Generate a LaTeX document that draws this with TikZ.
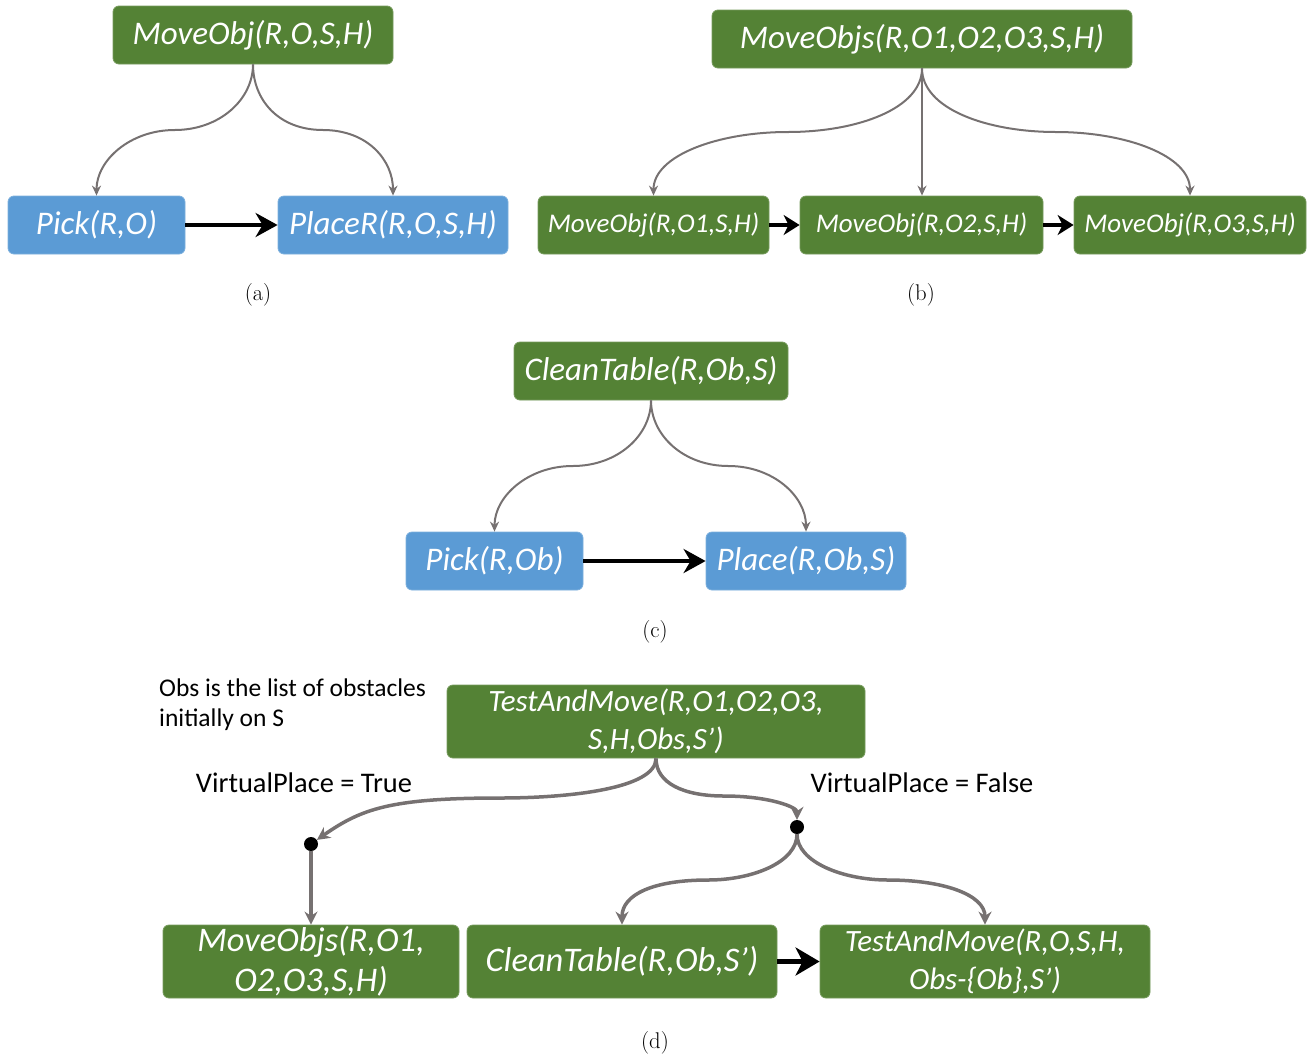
\documentclass[tikz,border=0pt]{standalone}
\usepackage{fontspec}
\newfontfamily\carl{Carlito}
\usetikzlibrary{arrows.meta,calc}
\definecolor{boxgreen}{HTML}{548235}
\definecolor{boxblue}{HTML}{5B9BD5}
\definecolor{linkgray}{HTML}{767171}
\begin{document}
\begin{tikzpicture}[x=1pt,y=-1pt,
  box/.style={rounded corners=6pt, text=white, inner sep=0pt, align=center, line width=0.8pt},
  gbox/.style={box, fill=boxgreen, draw=boxgreen!80!white},
  bbox/.style={box, fill=boxblue, draw=boxblue!80!white},
  bigtxt/.style={font=\carl\itshape\fontsize{33}{38}\selectfont},
  midtxt/.style={font=\carl\itshape\fontsize{27}{32}\selectfont},
  dtxt/.style={font=\carl\itshape\fontsize{31}{38}\selectfont},
  dbigtxt/.style={font=\carl\itshape\fontsize{34.5}{40}\selectfont},
  notetxt/.style={font=\carl\fontsize{25.5}{30}\selectfont, inner sep=0pt, align=left},
  vptxt/.style={font=\carl\fontsize{28.4}{33}\selectfont, inner sep=0pt},
  captext/.style={font=\fontsize{22.7}{27}\selectfont, inner sep=0pt},
  link/.style={draw=linkgray, line width=2pt, -{Stealth[length=10pt,width=9pt]}},
  linkd/.style={draw=linkgray, line width=3.5pt, -{Stealth[length=13pt,width=13pt]}},
  seq/.style={draw=black, line width=4pt, -{Stealth[length=22pt,width=24pt,inset=7pt]}},
  seqs/.style={draw=black, line width=4pt, -{Stealth[length=16pt,width=20pt,inset=5pt]}},
  seqd/.style={draw=black, line width=5pt, -{Stealth[length=24pt,width=28pt,inset=7pt]}},
  dotnode/.style={circle, fill=black, inner sep=0pt, minimum size=14pt}
]
\useasboundingbox (0,0) rectangle (1313,1058);

% ---------- (a)
\node[gbox, bigtxt, minimum width=280pt, minimum height=58pt] (aTop) at (253,35) {MoveObj(R,O,S,H)};
\node[bbox, bigtxt, minimum width=177pt, minimum height=58pt] (aPick) at (96.5,225) {Pick(R,O)};
\node[bbox, bigtxt, minimum width=230pt, minimum height=58pt] (aPlace) at (393,225) {PlaceR(R,O,S,H)};
\coordinate (aMidL) at ($(aTop.south)!0.5!(aPick.north)$);
\coordinate (aMidR) at ($(aTop.south)!0.5!(aPlace.north)$);
\draw[link] (aTop.south) .. controls +(0,35) and +(45,0) .. (aMidL) .. controls +(-45,0) and +(0,-35) .. (aPick.north);
\draw[link] (aTop.south) .. controls +(0,35) and +(-45,0) .. (aMidR) .. controls +(45,0) and +(0,-35) .. (aPlace.north);
\draw[seq] (aPick) -- (aPlace);
\node[captext] (capA) at (258,295) {(a)};

% ---------- (b)
\node[gbox, bigtxt, minimum width=420pt, minimum height=58pt] (bTop) at (922,39) {MoveObjs(R,O1,O2,O3,S,H)};
\node[gbox, midtxt, minimum width=231pt, minimum height=58pt] (b1) at (653.5,225) {MoveObj(R,O1,S,H)};
\node[gbox, midtxt, minimum width=243pt, minimum height=58pt] (b2) at (921.5,225) {MoveObj(R,O2,S,H)};
\node[gbox, midtxt, minimum width=232pt, minimum height=58pt] (b3) at (1190,225) {MoveObj(R,O3,S,H)};
\coordinate (bMidL) at ($(bTop.south)!0.5!(b1.north)$);
\coordinate (bMidR) at ($(bTop.south)!0.5!(b3.north)$);
\draw[link] (bTop.south) .. controls +(0,40) and +(70,0) .. (bMidL) .. controls +(-70,0) and +(0,-40) .. (b1.north);
\draw[link] (bTop.south) -- (bTop.south |- b2.north);
\draw[link] (bTop.south) .. controls +(0,40) and +(-70,0) .. (bMidR) .. controls +(70,0) and +(0,-40) .. (b3.north);
\draw[seqs] (b1) -- (b2);
\draw[seqs] (b2) -- (b3);
\node[captext] (capB) at (921,295) {(b)};

% ---------- (c)
\node[gbox, bigtxt, minimum width=274pt, minimum height=58pt] (cTop) at (651,371) {CleanTable(R,Ob,S)};
\node[bbox, bigtxt, minimum width=177pt, minimum height=58pt] (cPick) at (494.5,561) {Pick(R,Ob)};
\node[bbox, bigtxt, minimum width=200pt, minimum height=58pt] (cPlace) at (806,561) {Place(R,Ob,S)};
\coordinate (cMidL) at ($(cTop.south)!0.5!(cPick.north)$);
\coordinate (cMidR) at ($(cTop.south)!0.5!(cPlace.north)$);
\draw[link] (cTop.south) .. controls +(0,35) and +(45,0) .. (cMidL) .. controls +(-45,0) and +(0,-35) .. (cPick.north);
\draw[link] (cTop.south) .. controls +(0,35) and +(-45,0) .. (cMidR) .. controls +(45,0) and +(0,-35) .. (cPlace.north);
\draw[seq] (cPick) -- (cPlace);
\node[captext] (capC) at (655,632) {(c)};

% ---------- (d)
\node[notetxt, anchor=north west] (obsNote) at (159,679) {Obs is the list of obstacles\\initially on S};
\node[gbox, dtxt, minimum width=418pt, minimum height=73pt] (dTam) at (656,721.5) {TestAndMove(R,O1,O2,O3,\\S,H,Obs,S’)};
\node[vptxt] (vpTrue) at (304,783) {VirtualPlace = True};
\node[vptxt] (vpFalse) at (922,783) {VirtualPlace = False};
\node[dotnode] (dotL) at (311,844) {};
\node[dotnode] (dotR) at (797,827) {};
\node[gbox, dbigtxt, minimum width=296pt, minimum height=73pt] (dMo) at (311,961.5) {MoveObjs(R,O1,\\O2,O3,S,H)};
\node[gbox, dbigtxt, minimum width=310pt, minimum height=73pt] (dCt) at (622,961.5) {CleanTable(R,Ob,S’)};
\node[gbox, dtxt, minimum width=330pt, minimum height=73pt] (dTam2) at (985,961.5) {TestAndMove(R,O,S,H,\\Obs-\{Ob\},S’)};
\coordinate (dMidL) at (500,798);
\coordinate (dMidR) at (724,796);
\coordinate (dMidC) at (708,880);
\coordinate (dMidT) at (888,880);
\draw[linkd] (dTam.south) .. controls +(0,30) and +(70,0) .. (dMidL) .. controls +(-110,0) and +(50,-35) .. (dotL);
\draw[linkd] (dTam.south) .. controls +(0,25) and +(-40,0) .. (dMidR) .. controls +(45,0) and +(0,-20) .. (dotR);
\draw[linkd] (dotL) -- (dMo.north);
\draw[linkd] (dotR) .. controls +(0,35) and +(45,0) .. (dMidC) .. controls +(-55,0) and +(0,-30) .. (dCt.north);
\draw[linkd] (dotR) .. controls +(0,35) and +(-45,0) .. (dMidT) .. controls +(55,0) and +(0,-30) .. (dTam2.north);
\draw[seqd] (dCt) -- (dTam2);
\node[captext] (capD) at (655,1043) {(d)};
\end{tikzpicture}
\end{document}
